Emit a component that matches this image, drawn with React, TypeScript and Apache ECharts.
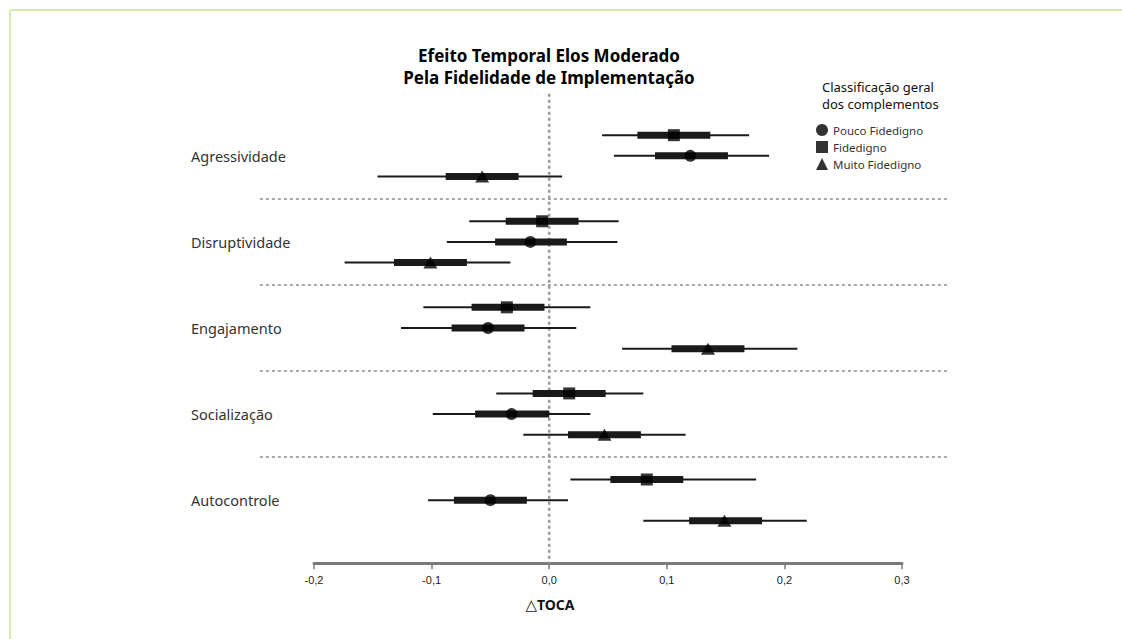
import React, { useEffect, useRef } from "react";
import * as echarts from "echarts";

const categories = ["Agressividade", "Disruptividade", "Engajamento", "Socialização", "Autocontrole"];

// Pouco Fidedigno (circle)
const poucoEst = [0.120, -0.016, -0.052, -0.032, -0.050];
const poucoLo95 = [0.055, -0.087, -0.126, -0.099, -0.103];
const poucoHi95 = [0.187, 0.058, 0.023, 0.035, 0.016];
const poucoLo50 = [0.090, -0.046, -0.083, -0.063, -0.081];
const poucoHi50 = [0.152, 0.015, -0.021, 0.000, -0.019];

// Fidedigno (square)
const fidEst = [0.106, -0.006, -0.036, 0.017, 0.083];
const fidLo95 = [0.045, -0.068, -0.107, -0.045, 0.018];
const fidHi95 = [0.170, 0.059, 0.035, 0.080, 0.176];
const fidLo50 = [0.075, -0.037, -0.066, -0.014, 0.052];
const fidHi50 = [0.137, 0.025, -0.004, 0.048, 0.114];

// Muito Fidedigno (triangle)
const muitoEst = [-0.057, -0.101, 0.135, 0.047, 0.149];
const muitoLo95 = [-0.146, -0.174, 0.062, -0.022, 0.080];
const muitoHi95 = [0.011, -0.033, 0.211, 0.116, 0.219];
const muitoLo50 = [-0.088, -0.132, 0.104, 0.016, 0.119];
const muitoHi50 = [-0.026, -0.070, 0.166, 0.078, 0.181];

const xTicks = [-0.2, -0.1, 0.0, 0.1, 0.2, 0.3];
const separatorRange = [-0.246, 0.339];

const FONT = "'Noto Sans', Lato, sans-serif";
const DARK = "#1a1a1a";

export default function App() {
  const ref = useRef<HTMLDivElement>(null);

  useEffect(() => {
    if (!ref.current) return;
    const chart = echarts.init(ref.current, undefined, { renderer: "svg" });
    const xMin = xTicks[0];
    const xMax = xTicks[xTicks.length - 1];

    const groups = [
      { name: "Fidedigno", symbol: "rect", size: 12, offset: -0.24, est: fidEst, lo95: fidLo95, hi95: fidHi95, lo50: fidLo50, hi50: fidHi50 },
      { name: "Pouco Fidedigno", symbol: "circle", size: 12, offset: 0, est: poucoEst, lo95: poucoLo95, hi95: poucoHi95, lo50: poucoLo50, hi50: poucoHi50 },
      { name: "Muito Fidedigno", symbol: "triangle", size: [14, 12], offset: 0.24, est: muitoEst, lo95: muitoLo95, hi95: muitoHi95, lo50: muitoLo50, hi50: muitoHi50 },
    ];

    const series: any[] = [];

    // zero reference line
    series.push({
      type: "line",
      clip: false,
      silent: true,
      symbol: "none",
      data: [[0, -0.72], [0, categories.length - 0.5 + 0.23]],
      lineStyle: { color: "#9a9a9a", width: 2.5, type: [3, 3] },
      z: 1,
    });

    // group separators (extend beyond axis range, computed through the axis scale)
    series.push({
      type: "custom",
      silent: true,
      clip: false,
      z: 1,
      data: categories.slice(1).map((_, i) => [i + 0.5]),
      encode: { y: 0 },
      renderItem: (params: any, api: any) => {
        const y = api.value(0);
        const p0 = api.coord([xMin, y]);
        const p1 = api.coord([xMax, y]);
        const ppu = (p1[0] - p0[0]) / (xMax - xMin);
        const xs = p0[0] + (separatorRange[0] - xMin) * ppu;
        const xe = p0[0] + (separatorRange[1] - xMin) * ppu;
        return {
          type: "line",
          shape: { x1: xs, y1: p0[1], x2: xe, y2: p0[1] },
          style: { stroke: "#a8a8a8", lineWidth: 2, lineDash: [3, 3] },
        };
      },
    });

    groups.forEach((g) => {
      const ciData = categories.map((_, i) => [i + g.offset, g.lo95[i], g.hi95[i], g.lo50[i], g.hi50[i]]);
      series.push({
        type: "custom",
        silent: true,
        z: 3,
        data: ciData,
        encode: { x: [1, 2], y: 0 },
        renderItem: (params: any, api: any) => {
          const y = api.value(0);
          const a = api.coord([api.value(1), y]);
          const b = api.coord([api.value(2), y]);
          const c = api.coord([api.value(3), y]);
          const d = api.coord([api.value(4), y]);
          return {
            type: "group",
            children: [
              { type: "line", shape: { x1: a[0], y1: a[1], x2: b[0], y2: b[1] }, style: { stroke: DARK, lineWidth: 2 } },
              { type: "rect", shape: { x: c[0], y: c[1] - 3.5, width: d[0] - c[0], height: 7 }, style: { fill: DARK } },
            ],
          };
        },
      });
      series.push({
        type: "scatter",
        name: g.name,
        symbol: g.symbol,
        symbolSize: g.size,
        z: 4,
        itemStyle: { color: "#000" },
        data: categories.map((_, i) => [g.est[i], i + g.offset]),
      });
    });

    chart.setOption({
      animation: false,
      backgroundColor: "#fff",
      textStyle: { fontFamily: FONT },
      title: [
        {
          text: "Efeito Temporal Elos Moderado\nPela Fidelidade de Implementação",
          left: 549,
          top: 44,
          padding: 0,
          textAlign: "center",
          textStyle: { fontSize: 17, fontWeight: "bold", color: "#000", lineHeight: 22, fontFamily: FONT },
        },
        {
          text: "Classificação geral\ndos complementos",
          left: 822,
          top: 78,
          padding: 0,
          textStyle: { fontSize: 13, fontWeight: "normal", color: "#111", lineHeight: 17, fontFamily: FONT },
        },
      ],
      legend: {
        orient: "vertical",
        left: 816,
        top: 124,
        padding: 0,
        itemWidth: 12,
        itemHeight: 12,
        itemGap: 5,
        itemStyle: { color: "#000" },
        textStyle: { fontSize: 11.5, color: "#333", fontFamily: FONT },
        data: [
          { name: "Pouco Fidedigno", icon: "circle" },
          { name: "Fidedigno", icon: "rect" },
          { name: "Muito Fidedigno", icon: "triangle" },
        ],
      },
      graphic: [
        { type: "line", shape: { x1: 10, y1: 10, x2: 1122, y2: 10 }, style: { stroke: "#d7e8b2", lineWidth: 2 } },
        { type: "line", shape: { x1: 10, y1: 10, x2: 10, y2: 639 }, style: { stroke: "#d7e8b2", lineWidth: 2 } },
      ],
      grid: { left: 314, right: 220, top: 112.8, height: 430.4 },
      xAxis: {
        type: "value",
        min: xMin,
        max: xMax,
        interval: 0.1,
        offset: 20,
        splitLine: { show: false },
        axisLine: { onZero: false, lineStyle: { color: "#7a7a7a", width: 3 } },
        axisTick: { show: true, length: 6, lineStyle: { color: "#7a7a7a", width: 1.5 } },
        axisLabel: {
          fontSize: 11,
          color: "#222",
          margin: 11,
          fontFamily: "'Liberation Sans Narrow', 'Liberation Sans', sans-serif",
          formatter: (v: number) => v.toFixed(1).replace(".", ","),
        },
        name: "{t|△}{b|TOCA}",
        nameLocation: "middle",
        nameGap: 34,
        nameTextStyle: {
          padding: [0, 116, 0, 0],
          rich: {
            t: { fontSize: 15, color: "#111", fontFamily: "'DejaVu Sans', sans-serif" },
            b: { fontSize: 14, fontWeight: "bold", color: "#111", fontFamily: FONT },
          },
        },
      },
      yAxis: [
        {
          type: "value",
          min: -0.5,
          max: categories.length - 0.5,
          inverse: true,
          show: false,
          position: "left",
        },
        {
          type: "category",
          data: categories,
          inverse: true,
          position: "left",
          axisLine: { show: false },
          axisTick: { show: false },
          splitLine: { show: false },
          axisLabel: { align: "left", margin: 123, fontSize: 14.5, color: "#333", fontFamily: FONT },
        },
      ],
      series,
    });

    return () => chart.dispose();
  }, []);

  return <div ref={ref} style={{ position: "absolute", left: 0, top: 0, width: 1122, height: 639 }} />;
}
